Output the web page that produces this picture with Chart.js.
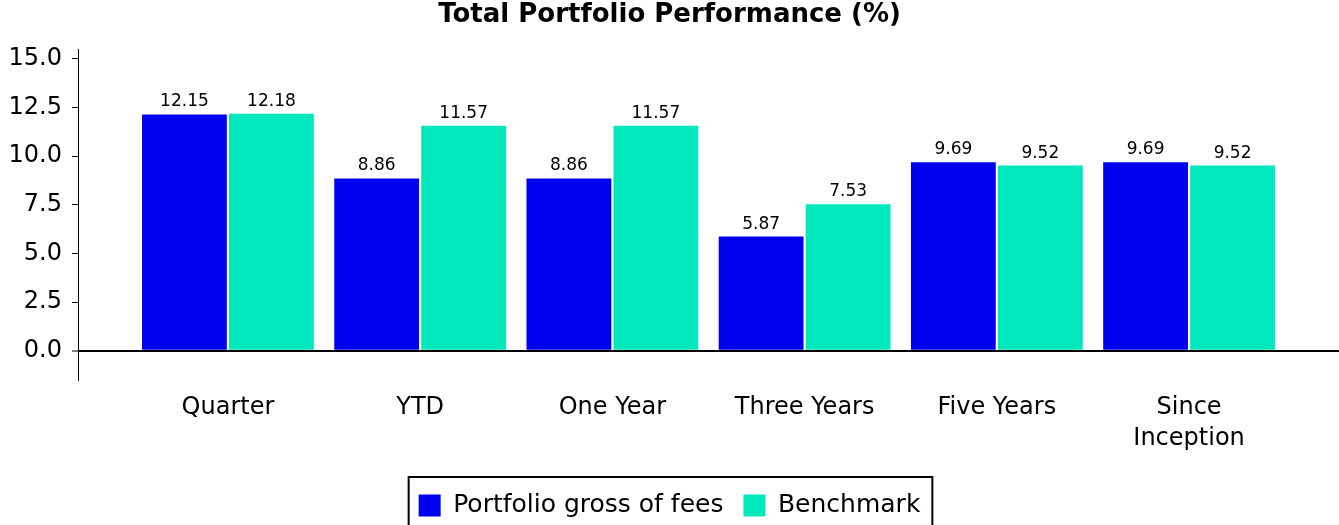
<!DOCTYPE html>
<html>
<head>
<meta charset="utf-8">
<title>Total Portfolio Performance</title>
<script src="https://cdn.jsdelivr.net/npm/chart.js@4/dist/chart.umd.min.js"></script>
<style>
  body { margin: 0; background: #fff; }
  #wrap { width: 1339px; height: 525px; position: relative; }
</style>
</head>
<body>
<div id="wrap"><canvas id="chart1"></canvas></div>
<script>
// data
var categories = ["Quarter", "YTD", "One Year", "Three Years", "Five Years", ["Since", "Inception"]];
var portfolio = [12.15, 8.86, 8.86, 5.87, 9.69, 9.69];
var benchmark = [12.18, 11.57, 11.57, 7.53, 9.52, 9.52];
var yTicks = [0, 2.5, 5, 7.5, 10, 12.5, 15];

Chart.defaults.font.family = "'DejaVu Sans', sans-serif";
Chart.defaults.color = '#000';

// value labels above each bar
var barValues = {
    id: 'barValues',
    afterDatasetsDraw: function (chart) {
        var ctx = chart.ctx;
        ctx.save();
        ctx.font = "17px 'DejaVu Sans'";
        ctx.fillStyle = '#000';
        ctx.textAlign = 'center';
        ctx.textBaseline = 'alphabetic';
        chart.data.datasets.forEach(function (ds, di) {
            chart.getDatasetMeta(di).data.forEach(function (bar, i) {
                ctx.fillText(ds.data[i].y.toFixed(2), bar.x, bar.y - 8);
            });
        });
        ctx.restore();
    }
};

// frame round the legend
var legendFrame = {
    id: 'legendFrame',
    afterDraw: function (chart) {
        var boxes = chart.legend.legendHitBoxes;
        if (!boxes || !boxes.length) return;
        var left = Math.min.apply(null, boxes.map(function (b) { return b.left; })) - 10;
        var right = Math.max.apply(null, boxes.map(function (b) { return b.left + b.width; })) + 12;
        var top = boxes[0].top - 16;
        var ctx = chart.ctx;
        ctx.save();
        ctx.strokeStyle = '#000';
        ctx.lineWidth = 2;
        ctx.strokeRect(left, top, right - left, 80);
        ctx.restore();
    }
};

var ctxChart1 = document.getElementById('chart1').getContext('2d');
var chart1 = new Chart(ctxChart1, {
    type: 'bar',
    plugins: [barValues, legendFrame],
    data: {
        datasets: [{
            label: 'Portfolio gross of fees',
            data: portfolio.map(function (v, i) { return { x: i, y: v }; }),
            backgroundColor: '#0000f0',
            borderWidth: 0
        }, {
            label: 'Benchmark',
            data: benchmark.map(function (v, i) { return { x: i, y: v }; }),
            backgroundColor: '#00e8bb',
            borderWidth: 0
        }]
    },
    options: {
        responsive: true,
        maintainAspectRatio: false,
        animation: false,
        categoryPercentage: 0.905,
        barPercentage: 0.975,
        layout: { padding: { left: 0, right: 0, top: 0, bottom: -3 } },
        plugins: {
            title: {
                display: true,
                text: 'Total Portfolio Performance (%)',
                font: { size: 26, weight: 'bold' },
                color: '#000',
                padding: { top: 0, bottom: 18 }
            },
            legend: {
                position: 'bottom',
                labels: {
                    boxWidth: 22,
                    boxHeight: 22,
                    padding: 20,
                    font: { size: 25 },
                    color: '#000'
                }
            },
            tooltip: { enabled: false }
        },
        scales: {
            x: {
                type: 'linear',
                offset: false,
                min: -0.78,
                max: 5.78,
                afterBuildTicks: function (scale) {
                    scale.ticks = categories.map(function (c, i) { return { value: i }; });
                },
                afterFit: function (scale) { scale.height = 93; },
                ticks: {
                    autoSkip: false,
                    maxRotation: 0,
                    padding: 12,
                    font: { size: 24, lineHeight: 1.3 },
                    color: '#000',
                    callback: function (v) { return categories[v]; }
                },
                grid: { display: false, drawTicks: false },
                border: { display: false }
            },
            y: {
                min: -1.5,
                max: 15.5,
                afterBuildTicks: function (scale) {
                    scale.ticks = yTicks.map(function (v) { return { value: v }; });
                },
                afterFit: function (scale) { scale.width = 78; },
                ticks: {
                    padding: 10,
                    font: { size: 24 },
                    color: '#000',
                    callback: function (v) { return v.toFixed(1); }
                },
                grid: {
                    color: function (c) { return c.tick && c.tick.value === 0 ? '#000' : 'rgba(0,0,0,0)'; },
                    lineWidth: function (c) { return c.tick && c.tick.value === 0 ? 2 : 1; },
                    tickColor: '#000',
                    tickWidth: 1,
                    tickLength: 6
                },
                border: { color: '#000', width: 1 }
            }
        }
    }
});
</script>
</body>
</html>
